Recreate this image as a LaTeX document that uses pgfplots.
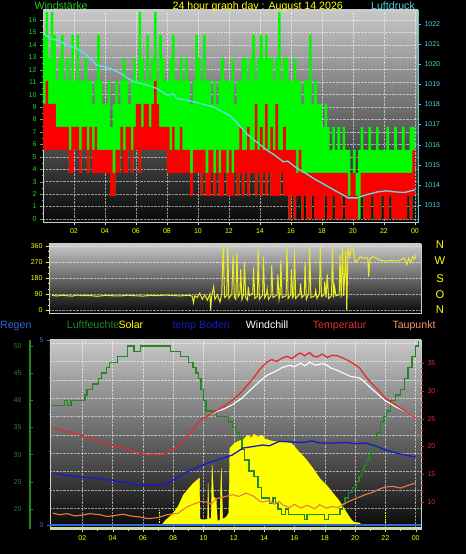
\documentclass[border=0pt]{standalone}
\usepackage{pgfplots}
\pgfplotsset{compat=1.18}
\usepgfplotslibrary{fillbetween}
\usepackage{pgfplotstable}
\usepackage{fontspec}
\setmainfont{Liberation Sans}

\definecolor{bgtop}{RGB}{200,200,200}
\definecolor{bgbot}{RGB}{8,8,8}
\definecolor{frame}{RGB}{205,205,205}
\definecolor{windg}{RGB}{0,250,0}
\definecolor{windr}{RGB}{250,0,0}
\definecolor{pcyan}{RGB}{70,210,225}
\definecolor{pline}{RGB}{95,225,235}
\definecolor{wlbl}{RGB}{40,215,40}
\definecolor{wtitle}{RGB}{40,200,40}
\definecolor{ylw}{RGB}{255,255,0}
\definecolor{diry}{RGB}{235,235,35}
\definecolor{humg}{RGB}{35,135,35}
\definecolor{rainb}{RGB}{45,105,220}
\definecolor{soilb}{RGB}{25,25,205}
\definecolor{tred}{RGB}{225,45,45}
\definecolor{dewo}{RGB}{230,125,75}
\definecolor{taulbl}{RGB}{240,150,110}
\definecolor{baseln}{RGB}{200,225,150}

\pagecolor{black}

\newcommand\lbl{\fontsize{10.6}{12}\selectfont}
\newcommand\dirfont{\fontsize{11.2}{12}\selectfont}

\pgfplotsset{
  /pgf/number format/1000 sep={},
  /pgf/number format/assume math mode=true,
  every axis/.append style={
    scale only axis,
    anchor=south west,
    tick label style={font=\fontsize{7}{8}\selectfont},
    tick align=outside,
    major tick length=3pt, minor tick length=1.5pt,
  },
  gridst/.style={grid style={densely dotted, white, opacity=0.55, line width=0.5pt}},
  bgshade/.style={axis background/.style={shade, top color=bgtop, bottom color=bgbot}},
}

\pgfplotstableread{
t g a l
0 14.8 9.25 5.55
10 16.65 11.1 5.55
20 12.95 9.25 5.55
30 16.65 9.25 5.55
40 14.8 9.25 5.55
50 11.1 7.4 5.55
60 12.95 7.4 5.55
70 14.8 7.4 5.55
80 11.1 7.4 5.55
90 12.95 7.4 5.55
100 11.1 5.55 3.7
110 14.8 7.4 3.7
120 11.1 7.4 5.55
130 14.8 7.4 5.55
140 11.1 5.55 3.7
150 11.1 7.4 5.55
160 12.95 7.4 5.55
170 11.1 5.55 3.7
180 11.1 7.4 5.55
190 9.25 5.55 3.7
200 11.1 7.4 3.7
210 14.8 5.55 3.7
220 11.1 5.55 3.7
230 9.25 5.55 3.7
240 9.25 5.55 3.7
250 11.1 5.55 3.7
260 7.4 5.55 1.85
270 9.25 3.7 1.85
280 11.1 5.55 3.7
290 9.25 5.55 3.7
300 11.1 7.4 5.55
310 12.95 5.55 3.7
320 11.1 7.4 3.7
330 9.25 7.4 5.55
340 11.1 5.55 3.7
350 12.95 7.4 5.55
360 11.1 9.25 5.55
370 16.65 9.25 3.7
380 12.95 7.4 5.55
390 11.1 9.25 5.55
400 14.8 9.25 5.55
410 11.1 7.4 5.55
420 12.95 9.25 5.55
430 16.65 11.1 5.55
440 11.1 9.25 5.55
450 14.8 7.4 5.55
460 12.95 7.4 5.55
470 11.1 7.4 5.55
480 11.1 7.4 3.7
490 12.95 5.55 3.7
500 14.8 7.4 3.7
510 11.1 5.55 3.7
520 11.1 5.55 3.7
530 12.95 7.4 3.7
540 11.1 5.55 3.7
550 12.95 5.55 3.7
560 11.1 5.55 3.7
570 9.25 3.7 1.85
580 11.1 5.55 3.7
590 14.8 5.55 3.7
600 12.95 5.55 3.7
610 11.1 5.55 1.85
620 14.8 5.55 3.7
630 11.1 3.7 1.85
640 11.1 5.55 1.85
650 9.25 5.55 3.7
660 11.1 3.7 1.85
670 9.25 5.55 3.7
680 11.1 3.7 1.85
690 12.95 5.55 1.85
700 11.1 5.55 3.7
710 11.1 3.7 1.85
720 11.1 5.55 1.85
730 12.95 3.7 1.85
740 9.25 5.55 3.7
750 11.1 5.55 1.85
760 11.1 7.4 3.7
770 12.95 5.55 1.85
780 12.95 5.55 3.7
790 11.1 7.4 1.85
800 12.95 5.55 3.7
810 14.8 5.55 3.7
820 11.1 9.25 1.85
830 12.95 5.55 3.7
840 14.8 7.4 1.85
850 12.95 5.55 3.7
860 14.8 9.25 1.85
870 12.95 5.55 3.7
880 12.95 7.4 1.85
890 11.1 5.55 1.85
900 12.95 9.25 1.85
910 16.65 5.55 1.85
920 11.1 5.55 3.7
930 12.95 7.4 1.85
940 12.95 5.55 1.85
950 11.1 5.55 0
960 11.1 5.55 1.85
970 12.95 5.55 0
980 11.1 3.7 1.85
990 11.1 5.55 1.85
1000 9.25 3.7 0
1010 11.1 3.7 1.85
1020 11.1 3.7 0
1030 14.8 3.7 0
1040 9.25 3.7 1.85
1050 11.1 3.7 0
1060 9.25 3.7 0
1070 9.25 3.7 0
1080 7.4 3.7 0
1090 9.25 3.7 1.85
1100 7.4 3.7 0
1110 5.55 3.7 0
1120 7.4 3.7 1.85
1130 5.55 3.7 0
1140 7.4 3.7 0
1150 5.55 3.7 0
1160 7.4 3.7 1.85
1170 5.55 3.7 0
1180 5.55 1.85 0
1190 3.7 3.7 0
1200 5.55 3.7 0
1210 3.7 1.85 0
1220 5.55 0 0
1230 7.4 3.7 1.85
1240 5.55 3.7 0
1250 5.55 3.7 0
1260 7.4 3.7 0
1270 5.55 3.7 1.85
1280 5.55 3.7 0
1290 7.4 3.7 0
1300 5.55 3.7 0
1310 5.55 3.7 1.85
1320 5.55 3.7 0
1330 7.4 3.7 0
1340 5.55 3.7 1.85
1350 5.55 3.7 0
1360 7.4 3.7 0
1370 5.55 3.7 0
1380 5.55 3.7 0
1390 7.4 3.7 0
1400 5.55 3.7 0
1410 5.55 3.7 1.85
1420 7.4 3.7 0
1430 7.4 5.55 1.85
1440 7.4 5.55 1.85
}\wind

\pgfplotstableread{
t p
0 1021.55
27 1021.29
53 1021.2
92 1020.96
130 1020.79
169 1020.46
208 1019.96
233 1019.88
259 1019.8
300 1019.55
350 1019.13
401 1018.97
440 1018.8
479 1018.47
505 1018.52
518 1018.3
556 1018.22
608 1018.05
659 1017.88
700 1017.6
724 1017.45
750 1017.1
792 1016.5
830 1016.1
870 1015.7
900 1015.45
930 1015.15
948 1015.18
980 1014.85
1014 1014.6
1050 1014.3
1092 1014.0
1140 1013.65
1182 1013.35
1218 1013.35
1250 1013.5
1296 1013.65
1330 1013.7
1362 1013.65
1400 1013.62
1440 1013.75
}\press

\pgfplotstableread{
t d
0 82
20 79
40 83
60 80
80 78
100 84
120 80
150 81
180 77
210 82
240 80
270 79
300 83
330 80
360 78
390 82
420 80
450 84
480 81
510 79
540 83
555 78
560 40
565 80
575 70
585 95
595 60
605 85
615 55
625 90
628 0
632 75
640 131
645 60
655 85
665 45
672 90
678 360
683 70
692 80
696 360
700 65
712 90
717 310
722 70
728 60
732 320
737 75
744 90
747 230
752 60
758 85
762 270
767 70
774 55
777 130
782 80
795 95
798 240
803 65
813 75
816 350
821 60
834 85
837 300
842 70
850 90
852 120
857 60
867 80
870 250
875 70
891 85
894 200
899 60
903 90
906 280
911 70
927 80
930 360
935 65
945 85
948 230
953 70
957 80
960 340
965 65
981 90
984 150
989 70
999 85
1002 270
1007 60
1017 95
1020 360
1025 70
1041 80
1044 110
1049 65
1059 90
1062 360
1067 75
1077 85
1080 160
1085 70
1090 200
1095 65
1107 80
1110 360
1115 70
1119 130
1124 80
1137 85
1140 310
1145 70
1150 360
1155 80
1163 330
1167 0
1172 350
1178 300
1185 340
1192 350
1200 270
1210 280
1220 300
1235 290
1250 295
1254 187
1258 285
1270 300
1285 290
1300 280
1320 275
1340 278
1360 275
1380 280
1395 292
1405 255
1412 290
1420 265
1428 300
1435 285
1440 310
}\wdir

\pgfplotstableread{
t s
0 0
435 0
441 20
450 50
465 80
480 117
500 190
520 300
540 360
560 420
575 450
584 470
586 60
600 50
616 60
618 420
622 60
630 70
634 600
640 280
650 260
655 40
665 50
670 570
676 60
690 80
700 120
704 770
712 790
725 820
740 840
760 860
775 900
790 870
800 910
815 880
830 900
845 860
870 840
900 830
930 830
948 817
975 740
1008 650
1035 560
1060 467
1090 390
1113 317
1135 250
1152 183
1170 110
1186 50
1195 30
1218 20
1225 0
1440 0
}\solar

\pgfplotstableread{
t h
0 39
50 40
60 39
75 40
130 41
138 42
160 43
185 44
195 45
215 46
228 47
260 48
300 50
325 49
350 50
470 49
510 48
540 47
558 46
570 45
580 44
590 42
600 40
610 38
650 37
700 36
715 35
730 34
742 33
752 31
762 29
780 27
800 26
815 24
830 22
860 21
875 22
885 21
895 20
910 19
925 20
935 19
1000 18
1010 19
1080 18
1095 19
1140 20
1150 21
1160 22
1175 23
1190 24
1205 25
1215 26
1225 27
1235 28
1245 29
1255 30
1265 31
1275 32
1285 34
1300 36
1315 37
1325 38
1340 40
1360 41
1380 42
1395 44
1410 46
1425 48
1440 50
1452 51
}\hum

\pgfplotstableread{
t v
4 23.3
60 22.7
111 22.05
150 21.4
192 20.8
240 20.2
282 19.7
348 18.8
380 18.5
402 18.6
430 18.5
456 18.8
490 19.8
534 21.7
560 23.2
588 24.75
620 25.6
654 26.5
684 27.3
714 28.3
750 29.8
798 32.3
825 34.0
852 35.2
870 35.6
890 35.3
912 35.9
930 36.2
950 35.8
970 36.5
984 36.8
1000 36.3
1020 36.9
1035 36.2
1050 36.1
1070 36.6
1090 36.0
1110 36.4
1130 36.3
1152 35.9
1170 35.5
1190 35.0
1218 34.1
1242 32.6
1260 31.6
1290 30.2
1320 28.7
1362 27.4
1404 26.2
1440 25.1
}\temp

\pgfplotstableread{
t v
630 25.8
654 26.3
684 26.8
714 27.5
750 28.6
798 30.7
825 31.8
852 32.8
880 33.4
912 34.2
942 34.6
960 34.3
984 35.0
1000 34.5
1020 35.1
1044 34.6
1070 34.9
1089 34.6
1104 34.1
1130 33.7
1152 33.2
1182 32.6
1218 32.3
1242 31.4
1260 30.6
1290 29.4
1320 28.2
1362 27.1
1404 26.2
1440 25.1
}\wchill

\pgfplotstableread{
t v
4 8.0
30 7.7
60 7.9
90 7.5
111 7.6
150 7.9
192 7.7
215 7.4
240 7.5
282 7.8
310 7.5
348 7.3
380 7.0
420 7.2
456 7.7
500 8.0
534 9.1
560 9.6
590 10.1
612 10.0
630 9.6
650 10.6
680 10.9
714 11.3
740 11.0
768 11.6
790 11.2
800 11.0
820 10.2
834 10.0
860 10.3
880 9.6
900 10.1
912 9.5
940 9.0
960 9.6
984 8.9
1010 9.4
1040 8.8
1060 9.5
1086 8.9
1110 9.2
1130 9.0
1152 9.5
1170 10.0
1206 10.7
1240 11.3
1272 11.8
1300 12.4
1320 12.7
1350 12.8
1380 12.5
1410 13.0
1440 13.4
}\dew

\pgfplotstableread{
t v
4 15.2
60 14.8
111 14.5
170 14.3
228 13.95
290 13.5
348 13.05
390 13.0
426 13.05
455 13.3
480 13.95
505 14.6
534 15.4
570 16.1
600 16.7
650 17.5
714 18.45
756 19.7
800 20.0
834 20.25
860 20.1
880 20.5
900 20.9
942 20.8
975 20.7
1008 20.8
1030 21.0
1050 20.7
1080 20.6
1110 20.6
1170 20.7
1200 20.5
1242 20.6
1280 20.1
1320 19.35
1380 18.6
1440 18.1
}\soil

\begin{document}
\begin{tikzpicture}[x=1pt,y=1pt]
\path (0,0) rectangle (466,554);

% ---------- Panel 1: wind speed ----------
\begin{axis}[at={(43pt,332pt)}, width=375pt, height=212pt,
  xmin=0, xmax=1452, ymin=-0.24, ymax=16.8,
  bgshade,
  axis line style={frame, line width=0.9pt},
  xtick={120,240,...,1440}, xticklabels={02,04,06,08,10,12,14,16,18,20,22,00},
  minor x tick num=2,
  ytick={0,1,...,16}, minor y tick num=1,
  tick pos=left,
  xmajorgrids, ymajorgrids, gridst,
  x tick label style={text=ylw},
  y tick label style={text=wlbl},
  x tick style={frame}, y tick style={wlbl},
]
\addplot[const plot, draw=none, name path=G] table[x=t,y=g]{\wind};
\addplot[const plot, draw=none, name path=A] table[x=t,y=a]{\wind};
\addplot[const plot, draw=none, name path=L] table[x=t,y=l]{\wind};
\addplot[windg] fill between[of=G and L];
\addplot[windr] fill between[of=A and L];
\end{axis}

\begin{axis}[at={(43pt,332pt)}, width=375pt, height=212pt,
  xmin=0, xmax=1452, ymin=1012.15, ymax=1022.7,
  axis x line=none, axis y line*=right,
  y axis line style={pcyan, line width=1pt},
  ytick={1013,1014,...,1022}, minor y tick num=1,
  y tick label style={text=pcyan}, y tick style={pcyan},
]
\addplot[pline, line width=1.3pt] table[x=t,y=p]{\press};
\end{axis}

\node[anchor=base west, inner sep=0, text=wtitle] at (34.3,544) {\lbl Windstärke};
\node[anchor=base west, inner sep=0, text=ylw] at (172.5,544) {\lbl 24 hour graph day : August 14 2026};
\node[anchor=base west, inner sep=0, text=pcyan] at (371,544) {\lbl Luftdruck};

% ---------- Panel 2: wind direction ----------
\begin{axis}[at={(49pt,241pt)}, width=372pt, height=69pt,
  xmin=-12, xmax=1461, ymin=-17, ymax=371,
  bgshade,
  axis line style={frame, line width=0.9pt},
  xtick=\empty, ytick={0,90,180,270,360}, minor y tick num=2, tick pos=left,
  ymajorgrids, gridst,
  y tick label style={text=ylw}, y tick style={ylw},
]
\addplot[diry, line width=1pt] table[x=t,y=d]{\wdir};
\end{axis}

\node[anchor=base, inner sep=0, text=ylw] at (440,305) {\dirfont N};
\node[anchor=base, inner sep=0, text=ylw] at (440,289) {\dirfont W};
\node[anchor=base, inner sep=0, text=ylw] at (440,271.7) {\dirfont S};
\node[anchor=base, inner sep=0, text=ylw] at (440,255.7) {\dirfont O};
\node[anchor=base, inner sep=0, text=ylw] at (440,240.7) {\dirfont N};

% ---------- legend row ----------
\node[anchor=base west, inner sep=0, text=rainb] at (0,225) {\lbl Regen};
\node[anchor=base west, inner sep=0, text=humg] at (66.7,225) {\lbl Luftfeuchte};
\node[anchor=base west, inner sep=0, text=ylw] at (118.3,225) {\lbl Solar};
\node[anchor=base west, inner sep=0, text=soilb] at (172.3,225) {\lbl temp Boden};
\node[anchor=base west, inner sep=0, text=white] at (245.7,225) {\lbl Windchill};
\node[anchor=base west, inner sep=0, text=tred] at (312.7,225) {\lbl Temperatur};
\node[anchor=base west, inner sep=0, text=taulbl] at (392.3,225) {\lbl Taupunkt};

% ---------- Panel 3 ----------
\begin{axis}[at={(50pt,25pt)}, width=371pt, height=189pt,
  xmin=-8, xmax=1461, ymin=0, ymax=189,
  bgshade,
  axis line style={frame, line width=0.9pt},
  xtick={120,240,...,1440}, xticklabels={02,04,06,08,10,12,14,16,18,20,22,00},
  minor x tick num=1,
  ytick={20.7,39,57.3,75.7,94,112.3,130.7,149,167.3,185.7}, yticklabels={},
  y tick style={draw=none},
  tick pos=left,
  xmajorgrids, ymajorgrids, gridst,
  x tick label style={text=ylw}, x tick style={frame},
]
\addplot[baseln, line width=1.6pt] coordinates {(-8,1.2) (1461,1.2)};
\end{axis}

\begin{axis}[at={(50pt,25pt)}, width=371pt, height=189pt,
  xmin=-8, xmax=1461, ymin=-40, ymax=1850, hide axis]
\addplot[fill=ylw, draw=ylw, line width=0.3pt] table[x=t,y=s]{\solar} \closedcycle;
\addplot[ylw, densely dotted, line width=0.8pt] coordinates {(426,0) (426,150)};
\addplot[ylw, densely dotted, line width=0.8pt] coordinates {(1322,0) (1322,150)};
\end{axis}

\begin{axis}[at={(50pt,25pt)}, width=371pt, height=189pt,
  xmin=-8, xmax=1461, ymin=-0.108, ymax=5,
  axis x line=none, axis y line*=left, y axis line style={draw=none},
  ytick={0,5}, minor y tick num=4,
  y tick label style={text=rainb}, y tick style={rainb},
]
\addplot[rainb, line width=1.4pt] coordinates {(-8,0) (1461,0)};
\end{axis}

\begin{axis}[at={(30pt,25pt)}, width=391pt, height=189pt,
  xmin=-87.2, xmax=1461, ymin=16.3, ymax=51.1,
  axis x line=none, axis y line*=left,
  y axis line style={humg, line width=1.2pt},
  ytick={20,25,...,50}, tick align=inside,
  y tick label style={text=humg, xshift=-5pt}, y tick style={humg},
]
\addplot[const plot, humg, line width=1.3pt] table[x=t,y=h]{\hum};
\end{axis}

\begin{axis}[at={(50pt,25pt)}, width=371pt, height=189pt,
  xmin=-8, xmax=1461, ymin=5.14, ymax=39.14,
  axis x line=none, axis y line*=right, y axis line style={draw=none},
  ytick={10,15,...,35}, minor y tick num=4,
  y tick label style={text=tred}, y tick style={tred},
]
\addplot[soilb, line width=1.3pt] table[x=t,y=v]{\soil};
\addplot[dewo, line width=1.1pt] table[x=t,y=v]{\dew};
\addplot[white, line width=1.1pt] table[x=t,y=v]{\wchill};
\addplot[tred, line width=1.3pt] table[x=t,y=v]{\temp};
\end{axis}

\end{tikzpicture}
\end{document}
